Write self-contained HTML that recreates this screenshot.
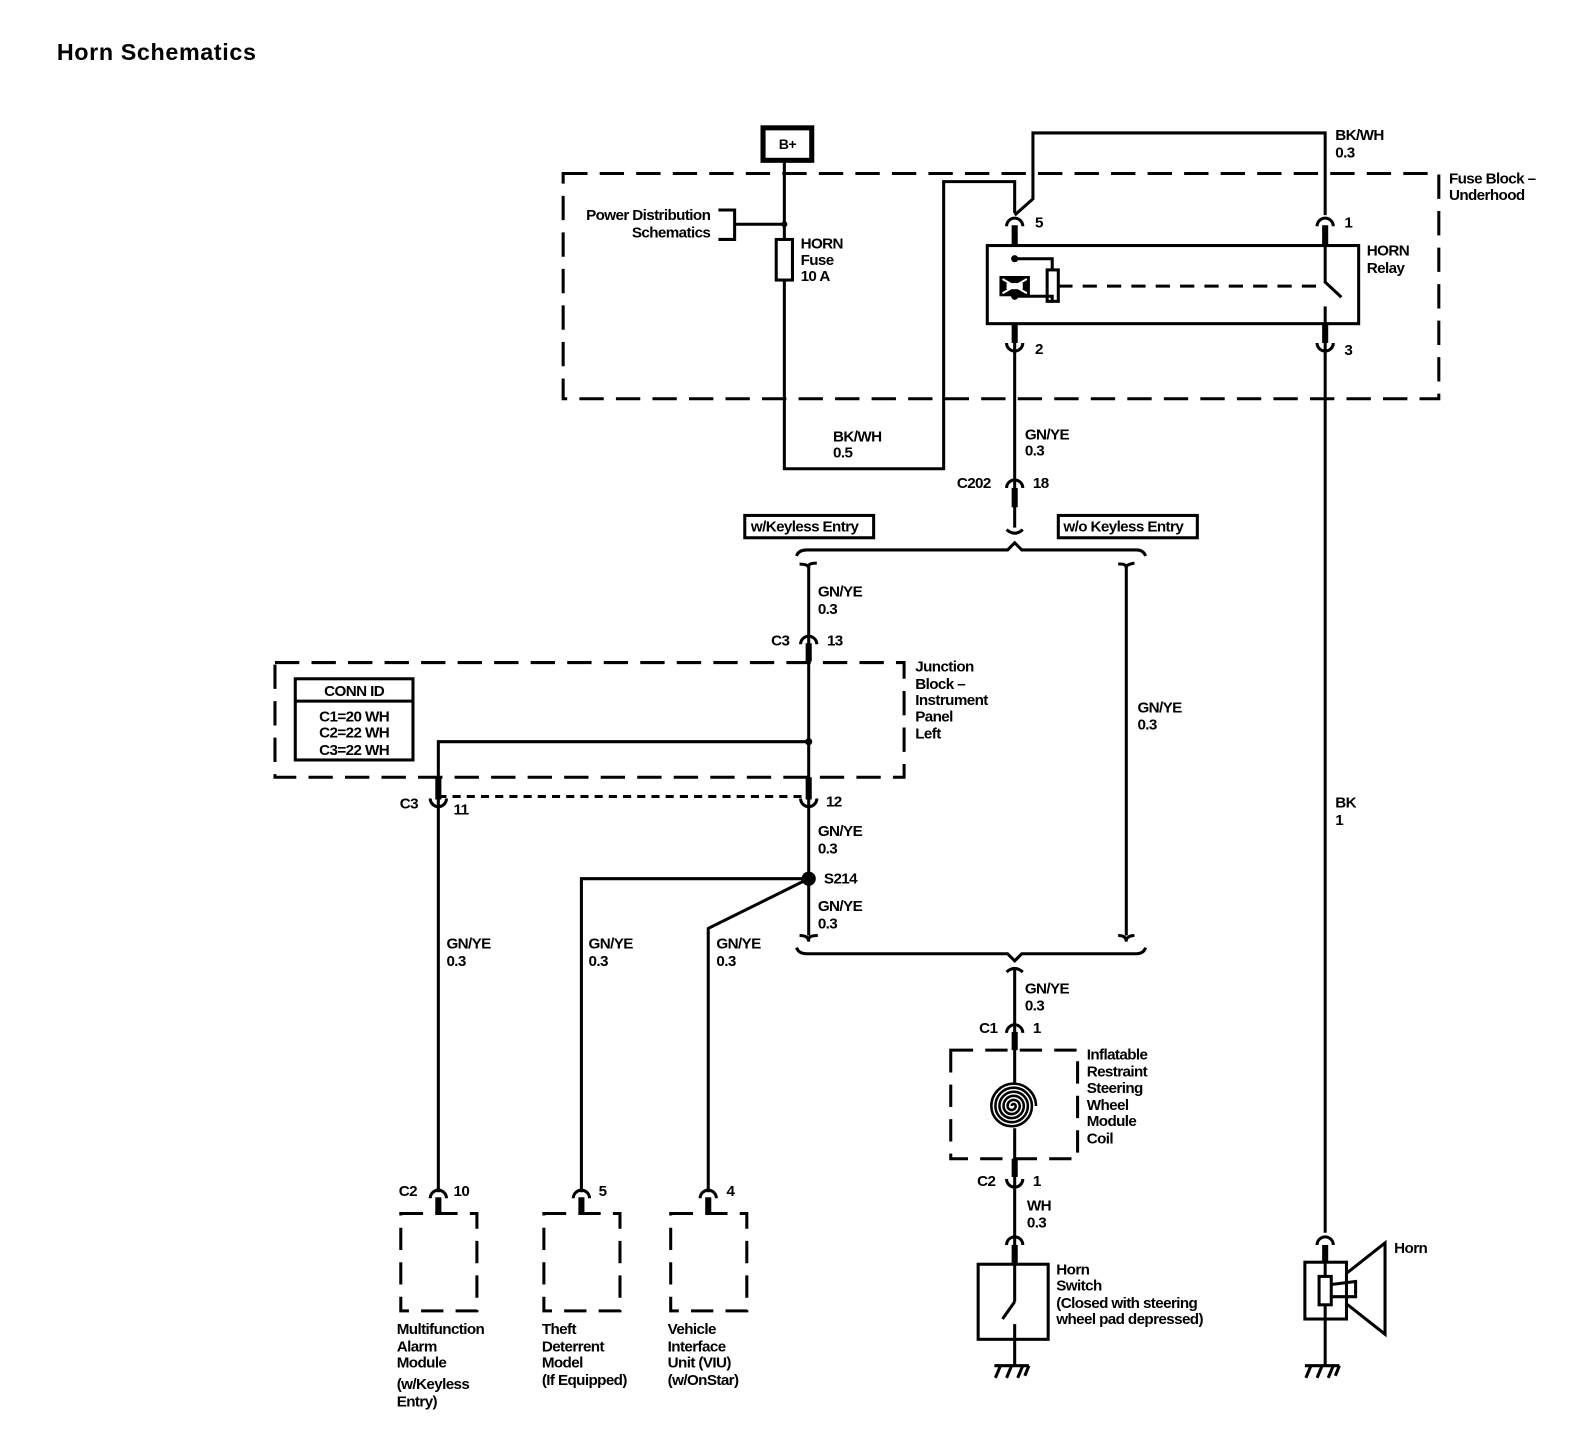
<!DOCTYPE html>
<html><head><meta charset="utf-8"><style>
html,body{margin:0;padding:0;background:#fff;}
svg{display:block;}
text{font-family:"Liberation Sans",sans-serif;font-size:15px;font-weight:bold;fill:#000;letter-spacing:-0.6px;}
</style></head><body>
<svg width="1590" height="1456" viewBox="0 0 1567 1435" preserveAspectRatio="none" xmlns="http://www.w3.org/2000/svg">
<defs>
<path id="cd" d="M-8,5 A8,8 0 0 1 8,5" fill="none" stroke="#000" stroke-width="3"/>
<path id="cu" d="M-8,-5 A8,8 0 0 0 8,-5" fill="none" stroke="#000" stroke-width="3"/>
<g id="gnd" stroke="#000" stroke-width="3" fill="none"><line x1="-20" y1="0" x2="14" y2="0"/><line x1="-14" y1="0" x2="-19" y2="12"/><line x1="-3" y1="0" x2="-8" y2="12"/><line x1="8" y1="0" x2="3" y2="12"/><line x1="14" y1="0" x2="10" y2="10"/></g>
</defs>
<text x="56" y="59" style="font-size:23px;letter-spacing:0.6px">Horn Schematics</text>

<g fill="none" stroke="#000" stroke-width="3">
<rect x="555" y="171" width="863" height="222" stroke-dasharray="24,12"/>
<rect x="271" y="653" width="620" height="113" stroke-dasharray="24,12"/>
<rect x="937" y="1035" width="125" height="107" stroke-dasharray="22,12"/>
<rect x="395" y="1196" width="75" height="96" stroke-dasharray="22,12"/>
<rect x="536" y="1196" width="75" height="96" stroke-dasharray="22,12"/>
<rect x="661" y="1196" width="75" height="96" stroke-dasharray="22,12"/>

<rect x="752" y="126" width="48" height="32" stroke-width="5"/>
<polyline points="773,158 773,462 930,462 930,179 1000,179 1000,210"/>
<rect x="765" y="236" width="16" height="40" fill="#fff"/>
<polyline points="708,207 724,207 724,236 708,236"/>
<line x1="724" y1="221" x2="773" y2="221"/>
<polyline points="1000,212 1018,196 1018,131 1306,131 1306,212"/>

<rect x="973" y="242" width="366" height="77"/>
<polyline points="1000,255 1037,255 1037,266"/><polyline points="1000,292 1037,292 1037,297"/>
<rect x="1032" y="266" width="11" height="31"/>
<line x1="1043" y1="282" x2="1306" y2="282" stroke-dasharray="14,10"/>
<polyline points="1306,242 1306,278 1322,293"/>
<line x1="1306" y1="302" x2="1306" y2="319"/>
<line x1="1000" y1="319" x2="1000" y2="520"/>
<line x1="1306" y1="319" x2="1306" y2="1215"/>

<path d="M992,522 Q1000,529 1008,522"/>
<path d="M785,548 Q787,542 795,542 L993,542 L1000,535 L1007,542 L1120,542 Q1127,542 1129,548"/>
<path d="M788,556 Q797,556 797,560 M797,558 Q797,555 805,555"/>
<path d="M1102,556 Q1110,555 1110,560 M1110,558 Q1112,556 1118,555"/>
<line x1="797" y1="557" x2="797" y2="922"/>
<line x1="1110" y1="557" x2="1110" y2="922"/>
<polyline points="797,731 432,731 432,1175"/>
<line x1="432" y1="785" x2="797" y2="785" stroke-dasharray="8,6"/>
<polyline points="797,866 573,866 573,1175"/>
<polyline points="797,866 698,915 698,1175"/>

<path d="M788,922 Q797,922 797,928 M797,926 Q797,922 806,922"/>
<path d="M1102,922 Q1110,922 1110,928 M1110,926 Q1112,922 1118,922"/>
<path d="M785,934 Q787,940 795,940 L993,940 L1000,947 L1007,940 L1120,940 Q1127,940 1129,934"/>
<path d="M992,958 Q1000,951 1008,958"/>
<line x1="1000" y1="956" x2="1000" y2="1068"/>
<line x1="1000" y1="1112" x2="1000" y2="1245"/>

<path d="M997,1090 A2,2 0 0 1 1001,1090 A4,4 0 0 1 993,1090 A6,6 0 0 1 1005,1090 A8,8 0 0 1 989,1090 A10,10 0 0 1 1009,1090 A12,12 0 0 1 985,1090 A14,14 0 0 1 1013,1090 A16,16 0 0 1 981,1090 A18,18 0 0 1 1017,1090 A20,20 0 0 1 977,1090 A22,22 0 0 1 1021,1090" stroke-width="2.5"/>

<rect x="964" y="1246" width="69" height="74"/>
<line x1="1000" y1="1246" x2="1000" y2="1283"/>
<line x1="1000" y1="1283" x2="988" y2="1300" />
<line x1="1000" y1="1305" x2="1000" y2="1346"/>
<rect x="1286" y="1244" width="41" height="56"/>
<line x1="1306" y1="1244" x2="1306" y2="1346"/>
<rect x="1300" y="1258" width="12" height="28" fill="#fff"/>
<polyline points="1312,1266 1336,1263 1336,1278 1312,1278"/>
<polyline points="1327,1255 1365,1225 1365,1315 1327,1285"/>
</g>

<g stroke="#000" stroke-width="6">
<line x1="1000" y1="222" x2="1000" y2="242"/><line x1="1306" y1="222" x2="1306" y2="242"/>
<line x1="1000" y1="319" x2="1000" y2="338"/><line x1="1306" y1="319" x2="1306" y2="338"/>
<line x1="1000" y1="481" x2="1000" y2="500"/>
<line x1="797" y1="634" x2="797" y2="652"/>
<line x1="797" y1="766" x2="797" y2="788"/><line x1="432" y1="766" x2="432" y2="788"/>
<line x1="1000" y1="1017" x2="1000" y2="1035"/><line x1="1000" y1="1142" x2="1000" y2="1160"/>
<line x1="1000" y1="1227" x2="1000" y2="1246"/><line x1="1306" y1="1227" x2="1306" y2="1244"/>
<line x1="432" y1="1180" x2="432" y2="1196"/><line x1="573" y1="1180" x2="573" y2="1196"/><line x1="698" y1="1180" x2="698" y2="1196"/>
</g>
<rect x="985" y="272" width="30" height="20" fill="#000"/>
<path d="M988,275 L1012,289 M1012,275 L988,289" stroke="#fff" stroke-width="2"/>
<rect x="992" y="279" width="16" height="6" fill="#fff"/>
<g fill="#000"><circle cx="773" cy="221" r="3"/><circle cx="1000" cy="255" r="3.5"/><circle cx="1000" cy="292" r="3.5"/><circle cx="797" cy="731" r="3.5"/><circle cx="797" cy="866" r="7"/></g>

<use href="#cd" x="1000" y="218"/><use href="#cd" x="1306" y="218"/>
<use href="#cu" x="1000" y="343"/><use href="#cu" x="1306" y="343"/>
<use href="#cd" x="1000" y="476"/><use href="#cd" x="797" y="630"/>
<use href="#cu" x="432" y="792"/><use href="#cu" x="797" y="792"/>
<use href="#cd" x="1000" y="1013"/><use href="#cu" x="1000" y="1167"/>
<use href="#cd" x="1000" y="1222"/><use href="#cd" x="1306" y="1222"/>
<use href="#cd" x="432" y="1176"/><use href="#cd" x="573" y="1176"/><use href="#cd" x="698" y="1176"/>
<use href="#gnd" x="1000" y="1346"/><use href="#gnd" x="1306" y="1346"/>

<rect x="734" y="508" width="127" height="22" fill="none" stroke="#000" stroke-width="3"/>
<rect x="1043" y="508" width="137" height="22" fill="none" stroke="#000" stroke-width="3"/>
<text x="740" y="524">w/Keyless Entry</text>
<text x="1048" y="524">w/o Keyless Entry</text>
<rect x="291" y="669" width="116" height="80" fill="none" stroke="#000" stroke-width="3"/>
<line x1="291" y1="691" x2="407" y2="691" stroke="#000" stroke-width="3"/>
<text x="349" y="686" text-anchor="middle">CONN ID</text>
<text x="349" y="711" text-anchor="middle">C1=20 WH</text>
<text x="349" y="727" text-anchor="middle">C2=22 WH</text>
<text x="349" y="744" text-anchor="middle">C3=22 WH</text>

<text x="776" y="147" text-anchor="middle" style="font-size:14px">B+</text>
<text x="700" y="217" text-anchor="end">Power Distribution</text>
<text x="700" y="234" text-anchor="end">Schematics</text>
<text x="789" y="245">HORN</text><text x="789" y="261">Fuse</text><text x="789" y="277">10 A</text>
<text x="1316" y="138">BK/WH</text><text x="1316" y="155">0.3</text>
<text x="1428" y="181">Fuse Block –</text><text x="1428" y="197">Underhood</text>
<text x="1347" y="252">HORN</text><text x="1347" y="269">Relay</text>
<text x="1020" y="224">5</text><text x="1325" y="224">1</text>
<text x="1020" y="349">2</text><text x="1325" y="350">3</text>
<text x="821" y="435">BK/WH</text><text x="821" y="451">0.5</text>
<text x="1010" y="433">GN/YE</text><text x="1010" y="449">0.3</text>
<text x="943" y="481">C202</text><text x="1018" y="481">18</text>
<text x="806" y="588">GN/YE</text><text x="806" y="605">0.3</text>
<text x="760" y="636">C3</text><text x="815" y="636">13</text>
<text x="902" y="662">Junction</text><text x="902" y="679">Block –</text><text x="902" y="695">Instrument</text><text x="902" y="711">Panel</text><text x="902" y="728">Left</text>
<text x="1121" y="702">GN/YE</text><text x="1121" y="719">0.3</text>
<text x="1316" y="796">BK</text><text x="1316" y="813">1</text>
<text x="394" y="797">C3</text><text x="447" y="803">11</text><text x="814" y="795">12</text>
<text x="806" y="824">GN/YE</text><text x="806" y="841">0.3</text>
<text x="812" y="871">S214</text>
<text x="806" y="898">GN/YE</text><text x="806" y="915">0.3</text>
<text x="440" y="935">GN/YE</text><text x="440" y="952">0.3</text>
<text x="580" y="935">GN/YE</text><text x="580" y="952">0.3</text>
<text x="706" y="935">GN/YE</text><text x="706" y="952">0.3</text>
<text x="1010" y="979">GN/YE</text><text x="1010" y="996">0.3</text>
<text x="965" y="1018">C1</text><text x="1018" y="1018">1</text>
<text x="1071" y="1044">Inflatable</text><text x="1071" y="1061">Restraint</text><text x="1071" y="1077">Steering</text><text x="1071" y="1094">Wheel</text><text x="1071" y="1110">Module</text><text x="1071" y="1127">Coil</text>
<text x="963" y="1169">C2</text><text x="1018" y="1169">1</text>
<text x="1012" y="1193">WH</text><text x="1012" y="1210">0.3</text>
<text x="1041" y="1256">Horn</text><text x="1041" y="1272">Switch</text><text x="1041" y="1289">(Closed with steering</text><text x="1041" y="1305">wheel pad depressed)</text>
<text x="1374" y="1235">Horn</text>
<text x="393" y="1179">C2</text><text x="447" y="1179">10</text>
<text x="590" y="1179">5</text><text x="716" y="1179">4</text>
<text x="391" y="1315">Multifunction</text><text x="391" y="1332">Alarm</text><text x="391" y="1348">Module</text><text x="391" y="1369">(w/Keyless</text><text x="391" y="1386">Entry)</text>
<text x="534" y="1315">Theft</text><text x="534" y="1332">Deterrent</text><text x="534" y="1348">Model</text><text x="534" y="1365">(If Equipped)</text>
<text x="658" y="1315">Vehicle</text><text x="658" y="1332">Interface</text><text x="658" y="1348">Unit (VIU)</text><text x="658" y="1365">(w/OnStar)</text>
</svg>
</body></html>
